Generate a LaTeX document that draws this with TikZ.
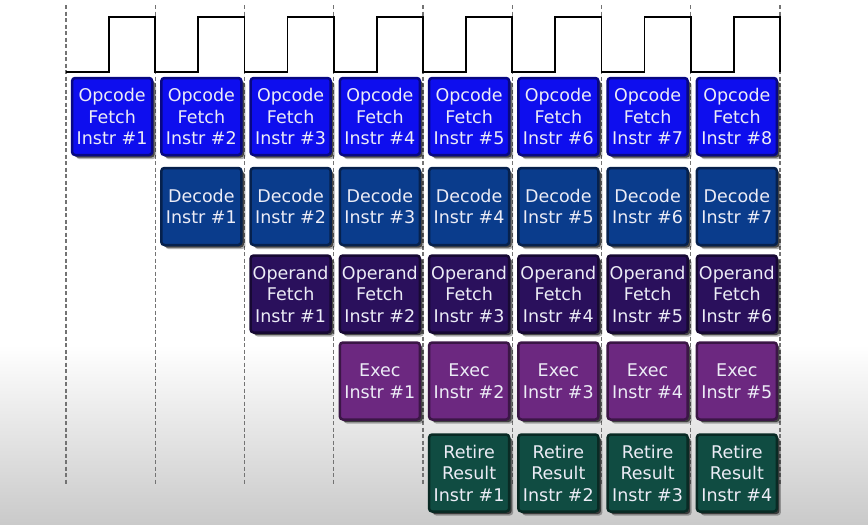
\documentclass[tikz,border=0pt]{standalone}
\usepackage{fontspec}
\setmainfont{DejaVu Sans}
\usetikzlibrary{shadows}

\definecolor{fetchblue}{RGB}{14,14,238}
\definecolor{decodeblue}{RGB}{10,60,140}
\definecolor{operandpurple}{RGB}{42,16,92}
\definecolor{execpurple}{RGB}{108,40,128}
\definecolor{retiregreen}{RGB}{16,76,66}
\definecolor{labelwhite}{RGB}{236,236,246}

\tikzset{
  stage/.style={rounded corners=3pt, minimum width=80pt, minimum height=77pt,
    inner sep=0pt, align=center, text=labelwhite,
    font=\fontsize{17.5}{21.5}\selectfont, line width=2.5pt,
    general shadow={shadow xshift=4pt, shadow yshift=-4pt, fill=black, opacity=0.3},
    general shadow={shadow xshift=2.5pt, shadow yshift=-2.5pt, fill=black, opacity=0.6}},
  fetchbox/.style={stage, fill=fetchblue, draw=fetchblue!55!black},
  decodebox/.style={stage, fill=decodeblue, draw=decodeblue!55!black},
  operandbox/.style={stage, fill=operandpurple, draw=operandpurple!55!black},
  execbox/.style={stage, fill=execpurple, draw=execpurple!55!black},
  retirebox/.style={stage, fill=retiregreen, draw=retiregreen!55!black},
  tick/.style={black!55, line width=1.1pt, dash pattern=on 4pt off 2.5pt}
}

\begin{document}
\begin{tikzpicture}[x=1pt, y=-1pt]
  \useasboundingbox (0,0) rectangle (868,525);

  % Background, fading to grey at the bottom
  \fill[white] (0,0) rectangle (868,345);
  \shade[top color=white, bottom color=black!21] (0,345) rectangle (868,525);

  % Clock boundaries
  \foreach \i in {0,...,8} {
    \draw[tick] ({66+89.25*\i},5) -- ({66+89.25*\i},485);
  }

  % Clock signal
  \draw[line width=1.6pt] (66,72)
    \foreach \i in {0,...,7} { -- ++(43,0) -- ++(0,-55) -- ++(46.25,0) -- ++(0,55) };

  % Pipeline stages
  \foreach \k in {1,...,8} {
    \node[fetchbox] (fetch-\k) at ({66+89.25*(\k-0.5)+1.5},116.5) {Opcode\\Fetch\\Instr \#\k};
  }
  \foreach \k in {2,...,8} {
    \pgfmathtruncatemacro{\n}{\k-1}
    \node[decodebox] (decode-\n) at ({66+89.25*(\k-0.5)+1.5},206.5) {Decode\\Instr \#\n};
  }
  \foreach \k in {3,...,8} {
    \pgfmathtruncatemacro{\n}{\k-2}
    \node[operandbox] (operand-\n) at ({66+89.25*(\k-0.5)+1.5},294) {Operand\\Fetch\\Instr \#\n};
  }
  \foreach \k in {4,...,8} {
    \pgfmathtruncatemacro{\n}{\k-3}
    \node[execbox] (exec-\n) at ({66+89.25*(\k-0.5)+1.5},381) {Exec\\Instr \#\n};
  }
  \foreach \k in {5,...,8} {
    \pgfmathtruncatemacro{\n}{\k-4}
    \node[retirebox] (retire-\n) at ({66+89.25*(\k-0.5)+1.5},473) {Retire\\Result\\Instr \#\n};
  }
\end{tikzpicture}
\end{document}
